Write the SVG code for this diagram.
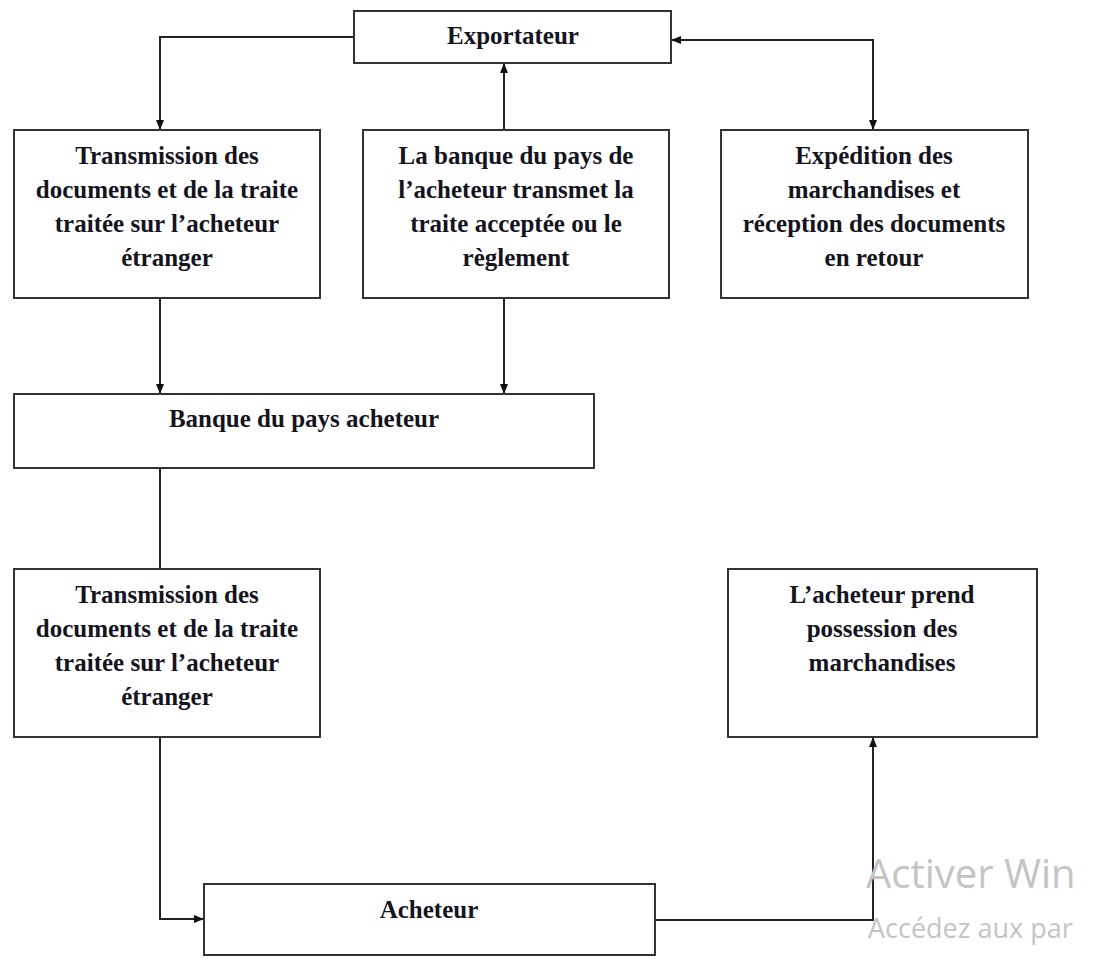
<svg xmlns="http://www.w3.org/2000/svg" width="1093" height="967" viewBox="0 0 1093 967">
<style>
.box{fill:#fff;stroke:#333;stroke-width:2}
.t{font-family:"Liberation Serif","Times New Roman",serif;font-weight:bold;font-size:25px;fill:#141420;text-anchor:middle}
.c{fill:none;stroke:#222;stroke-width:2}
.wm{font-family:"Open Sans","Noto Sans",sans-serif;fill:#c4c4c4}
</style>
<defs>
<marker id="ah" markerUnits="userSpaceOnUse" markerWidth="10" markerHeight="10" refX="10" refY="5" orient="auto-start-reverse" viewBox="0 0 10 10">
<path d="M0,1 L10,5 L0,9 z" fill="#111"/>
</marker>
</defs>
<rect width="1093" height="967" fill="#fff"/>
<g id="connectors">
<path class="c" d="M354,37 H160 V130" marker-end="url(#ah)"/>
<path class="c" d="M504,130 V63" marker-end="url(#ah)"/>
<path class="c" d="M671,40 H873 V130" marker-start="url(#ah)" marker-end="url(#ah)"/>
<path class="c" d="M160,298 V394" marker-end="url(#ah)"/>
<path class="c" d="M504,298 V394" marker-end="url(#ah)"/>
<path class="c" d="M160,468 V569"/>
<path class="c" d="M160,737 V919 H204" marker-end="url(#ah)"/>
<path class="c" d="M655,920 H873 V737" marker-end="url(#ah)"/>
</g>
<g id="exportateur">
<rect class="box" x="354" y="11" width="317" height="52"/>
<text class="t" x="513" y="44">Exportateur</text>
</g>
<g id="transmission1">
<rect class="box" x="14" y="130" width="306" height="168"/>
<text class="t" x="167" y="164">Transmission des</text>
<text class="t" x="167" y="198">documents et de la traite</text>
<text class="t" x="167" y="232">traitée sur l’acheteur</text>
<text class="t" x="167" y="266">étranger</text>
</g>
<g id="banque-transmet">
<rect class="box" x="363" y="130" width="306" height="168"/>
<text class="t" x="516" y="164">La banque du pays de</text>
<text class="t" x="516" y="198">l’acheteur transmet la</text>
<text class="t" x="516" y="232">traite acceptée ou le</text>
<text class="t" x="516" y="266">règlement</text>
</g>
<g id="expedition">
<rect class="box" x="721" y="130" width="307" height="168"/>
<text class="t" x="874" y="164">Expédition des</text>
<text class="t" x="874" y="198">marchandises et</text>
<text class="t" x="874" y="232">réception des documents</text>
<text class="t" x="874" y="266">en retour</text>
</g>
<g id="banque-acheteur">
<rect class="box" x="14" y="394" width="580" height="74"/>
<text class="t" x="304" y="427">Banque du pays acheteur</text>
</g>
<g id="transmission2">
<rect class="box" x="14" y="569" width="306" height="168"/>
<text class="t" x="167" y="603">Transmission des</text>
<text class="t" x="167" y="637">documents et de la traite</text>
<text class="t" x="167" y="671">traitée sur l’acheteur</text>
<text class="t" x="167" y="705">étranger</text>
</g>
<g id="possession">
<rect class="box" x="728" y="569" width="309" height="168"/>
<text class="t" x="882" y="603">L’acheteur prend</text>
<text class="t" x="882" y="637">possession des</text>
<text class="t" x="882" y="671">marchandises</text>
</g>
<g id="acheteur">
<rect class="box" x="204" y="884" width="451" height="71"/>
<text class="t" x="429" y="918">Acheteur</text>
</g>
<g id="watermark">
<text class="wm" x="866" y="888" font-size="40">Activer Win</text>
<text class="wm" x="868" y="938" font-size="27">Accédez aux par</text>
</g>
</svg>
